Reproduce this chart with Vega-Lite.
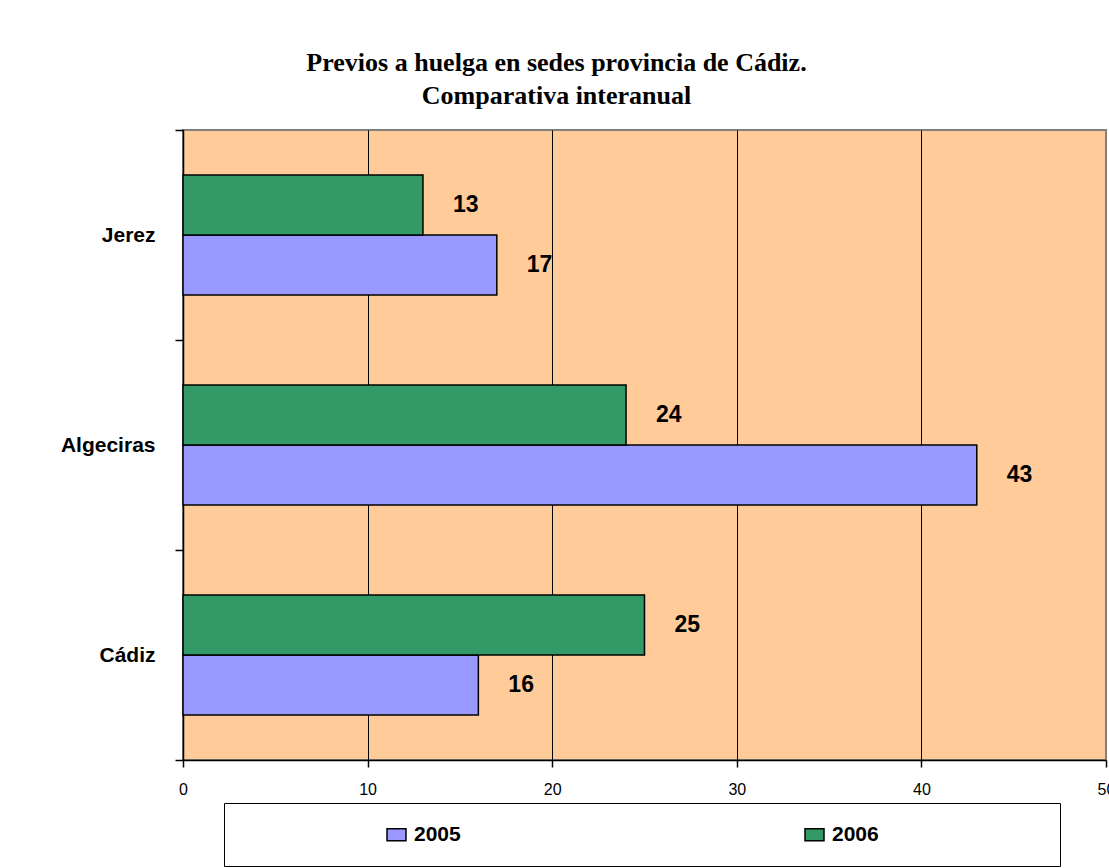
{
  "$schema": "https://vega.github.io/schema/vega-lite/v6.json",
  "width": 923,
  "height": 630,
  "autosize": {"type": "none"},
  "padding": {"left": 183, "top": 130, "right": 3, "bottom": 108},
  "background": "white",
  "title": {
    "text": ["Previos a huelga en sedes provincia de Cádiz.", "Comparativa interanual"],
    "font": "Liberation Serif",
    "fontSize": 26,
    "fontWeight": "bold",
    "lineHeight": 33,
    "offset": 10,
    "dx": -88,
    "anchor": "middle",
    "color": "black"
  },
  "data": {
    "values": [
      {"Sede": "Jerez", "Año": "2005", "Valor": 17},
      {"Sede": "Jerez", "Año": "2006", "Valor": 13},
      {"Sede": "Algeciras", "Año": "2005", "Valor": 43},
      {"Sede": "Algeciras", "Año": "2006", "Valor": 24},
      {"Sede": "Cádiz", "Año": "2005", "Valor": 16},
      {"Sede": "Cádiz", "Año": "2006", "Valor": 25}
    ]
  },
  "encoding": {
    "y": {
      "field": "Sede",
      "type": "nominal",
      "sort": ["Jerez", "Algeciras", "Cádiz"],
      "scale": {"paddingInner": 0, "paddingOuter": 0},
      "axis": {
        "title": null,
        "tickBand": "extent",
        "labelFont": "Liberation Sans",
        "labelFontSize": 21,
        "labelFontWeight": "bold",
        "labelColor": "black",
        "labelPadding": 20,
        "tickSize": 8,
        "tickColor": "black",
        "tickWidth": 1.5,
        "domainColor": "black",
        "domainWidth": 1.5,
        "grid": false
      }
    },
    "yOffset": {
      "field": "Año",
      "type": "nominal",
      "sort": "descending",
      "scale": {"paddingInner": 0, "paddingOuter": 0.75}
    },
    "x": {
      "field": "Valor",
      "type": "quantitative",
      "scale": {"domain": [0, 50]},
      "axis": {
        "title": null,
        "values": [0, 10, 20, 30, 40, 50],
        "grid": true,
        "gridColor": {"condition": {"test": "datum.value == 50", "value": "#808080"}, "value": "black"},
        "gridOpacity": 1,
        "gridWidth": 1,
        "tickSize": 7,
        "tickColor": "black",
        "tickWidth": 1.5,
        "domainColor": "black",
        "domainWidth": 1.5,
        "labelFont": "Liberation Sans",
        "labelFontSize": 16,
        "labelColor": "black",
        "labelPadding": 14,
        "labelFlush": false
      }
    }
  },
  "layer": [
    {
      "mark": {"type": "bar", "stroke": "black", "strokeWidth": 1.5},
      "encoding": {
        "color": {
          "field": "Año",
          "type": "nominal",
          "scale": {"domain": ["2005", "2006"], "range": ["#9999FF", "#339966"]},
          "legend": {
            "title": " ",
            "titleOrient": "right",
            "titlePadding": 160,
            "orient": "none",
            "legendX": 41,
            "legendY": 673,
            "direction": "horizontal",
            "columns": 2,
            "padding": 21,
            "strokeColor": "black",
            "fillColor": "white",
            "symbolType": "M-1,-0.63H1V0.63H-1Z",
            "symbolSize": 361,
            "symbolStrokeColor": "black",
            "symbolStrokeWidth": 1.5,
            "symbolOpacity": 1,
            "labelFont": "Liberation Sans",
            "labelFontSize": 21,
            "labelFontWeight": "bold",
            "labelColor": "black",
            "labelOffset": 7,
            "columnPadding": 202,
            "symbolOffset": 141
          }
        }
      }
    },
    {
      "mark": {
        "type": "text",
        "align": "left",
        "baseline": "middle",
        "dx": 30,
        "font": "Liberation Sans",
        "fontSize": 23,
        "fontWeight": "bold",
        "color": "black"
      },
      "encoding": {
        "text": {"field": "Valor", "type": "quantitative"}
      }
    }
  ],
  "config": {
    "view": {"fill": "#FFCC99", "stroke": "#808080", "strokeWidth": 2}
  }
}
